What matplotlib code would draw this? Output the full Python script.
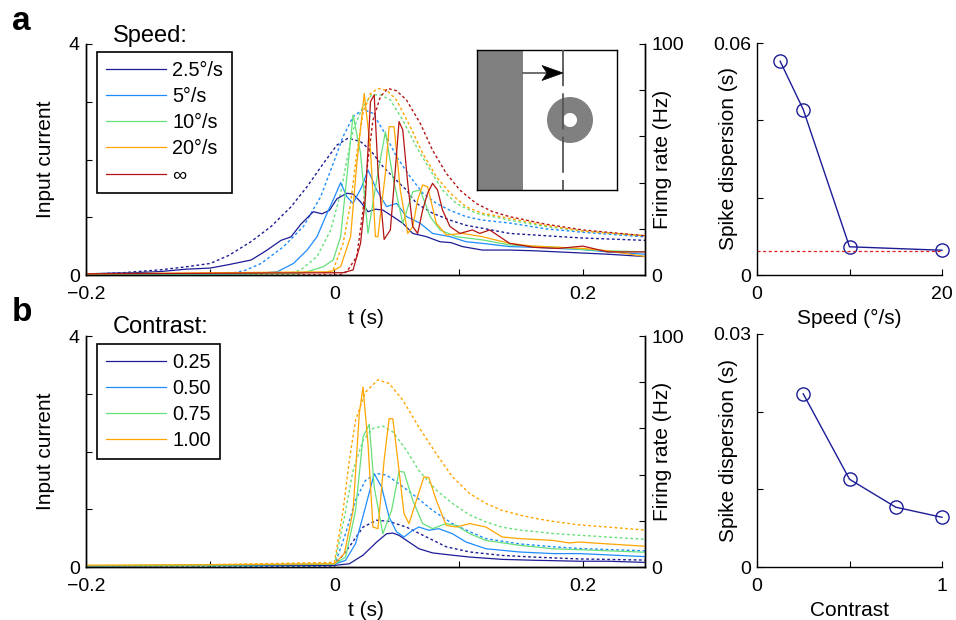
import numpy as np
import matplotlib
matplotlib.use('Agg')
import matplotlib.pyplot as plt
from matplotlib.patches import Rectangle, Wedge, Polygon

plt.rcParams['font.family'] = ['Liberation Sans', 'DejaVu Sans']
plt.rcParams['font.size'] = 14
plt.rcParams['axes.labelsize'] = 15
plt.rcParams['axes.unicode_minus'] = True

# colours per condition
navy, blue, green, orange, red = '#1c1c96', '#1e8cff', '#66e07a', '#ffa500', '#b41414'

# ---------- panel a: speed ----------
speed_labels = ['2.5°/s', '5°/s', '10°/s', '20°/s', '∞']

# dashed: input current
a_cur_t = [
    [-0.2, -0.17, -0.14, -0.12, -0.1, -0.085, -0.067, -0.051, -0.035, -0.022, -0.009, 0.002, 0.011, 0.021,
     0.029, 0.039, 0.047, 0.058, 0.066, 0.079, 0.093, 0.106, 0.119, 0.141, 0.17, 0.2, 0.25],
    [-0.2, -0.1, -0.085, -0.072, -0.059, -0.041, -0.025, -0.011, -0.001, 0.007, 0.015, 0.023, 0.031, 0.039,
     0.050, 0.061, 0.071, 0.082, 0.093, 0.106, 0.119, 0.141, 0.17, 0.2, 0.25],
    [-0.2, -0.04, -0.027, -0.014, -0.003, 0.005, 0.010, 0.015, 0.023, 0.030, 0.037, 0.045, 0.055, 0.066,
     0.077, 0.087, 0.098, 0.114, 0.141, 0.17, 0.2, 0.25],
    [-0.2, -0.012, -0.001, 0.007, 0.013, 0.018, 0.023, 0.029, 0.035, 0.042, 0.050, 0.061, 0.071, 0.082,
     0.093, 0.106, 0.119, 0.141, 0.17, 0.2, 0.25],
    [-0.2, 0.004, 0.010, 0.018, 0.023, 0.027, 0.031, 0.037, 0.043, 0.050, 0.058, 0.069, 0.079, 0.090,
     0.101, 0.114, 0.127, 0.141, 0.17, 0.2, 0.25],
]
a_cur = [
    [0.01, 0.04, 0.09, 0.14, 0.20, 0.34, 0.58, 0.84, 1.18, 1.53, 1.93, 2.25, 2.37, 2.31, 2.16, 1.88, 1.70,
     1.47, 1.24, 1.07, 0.95, 0.86, 0.81, 0.72, 0.68, 0.64, 0.60],
    [0, 0, 0.02, 0.08, 0.20, 0.49, 0.84, 1.36, 1.93, 2.40, 2.74, 2.87, 2.80, 2.51, 2.05, 1.70, 1.42, 1.24,
     1.12, 1.01, 0.95, 0.90, 0.80, 0.74, 0.66],
    [0, 0, 0.09, 0.32, 0.78, 1.42, 1.99, 2.51, 2.92, 3.12, 3.12, 3.03, 2.68, 2.22, 1.82, 1.47, 1.24, 1.07,
     0.95, 0.84, 0.76, 0.68],
    [0, 0, 0.09, 0.55, 1.24, 2.11, 2.80, 3.14, 3.23, 3.20, 3.03, 2.57, 2.11, 1.70, 1.42, 1.18, 1.07, 0.98,
     0.86, 0.76, 0.68],
    [0, 0, 0.06, 0.32, 1.12, 1.99, 2.68, 3.09, 3.23, 3.19, 3.03, 2.63, 2.16, 1.76, 1.47, 1.24, 1.10, 1.01,
     0.88, 0.78, 0.68],
]

# solid: firing rate (Hz)
a_rate_t = [
    [-0.2, -0.18, -0.16, -0.14, -0.12, -0.1, -0.085, -0.067, -0.055, -0.043, -0.035, -0.027, -0.017, -0.010,
     -0.004, 0.002, 0.010, 0.015, 0.021, 0.027, 0.033, 0.039, 0.047, 0.055, 0.063, 0.074, 0.085, 0.094,
     0.103, 0.119, 0.141, 0.16, 0.18, 0.2, 0.22, 0.25],
    [-0.2, -0.1, -0.07, -0.055, -0.046, -0.033, -0.022, -0.014, -0.006, -0.001, 0.005, 0.010, 0.015, 0.022,
     0.027, 0.034, 0.042, 0.050, 0.058, 0.069, 0.079, 0.093, 0.106, 0.119, 0.141, 0.16, 0.18, 0.2, 0.22, 0.25],
    [-0.2, -0.03, -0.022, -0.009, -0.001, 0.005, 0.010, 0.015, 0.021, 0.027, 0.034, 0.041, 0.047, 0.055,
     0.063, 0.069, 0.077, 0.085, 0.098, 0.119, 0.141, 0.16, 0.18, 0.2, 0.22, 0.25],
    [-0.2, -0.003, 0.005, 0.013, 0.018, 0.024, 0.029, 0.033, 0.035, 0.041, 0.044, 0.048, 0.053, 0.059,
     0.063, 0.067, 0.071, 0.075, 0.082, 0.090, 0.103, 0.119, 0.141, 0.16, 0.18, 0.2, 0.22, 0.25],
    [-0.2, 0.007, 0.015, 0.021, 0.025, 0.029, 0.032, 0.035, 0.040, 0.045, 0.049, 0.052, 0.055, 0.059,
     0.063, 0.067, 0.071, 0.075, 0.079, 0.083, 0.087, 0.093, 0.101, 0.111, 0.117, 0.125, 0.133, 0.141,
     0.16, 0.18, 0.2, 0.22, 0.25],
]
a_rate = [
    [0.5, 0.8, 1.0, 1.5, 2.5, 3.0, 4.5, 6.5, 10.5, 15.0, 16.5, 22.0, 27.4, 26.5, 28.0, 33.0, 35.4, 35.0,
     31.7, 27.4, 28.5, 28.1, 25.3, 22.4, 18.0, 16.6, 14.4, 14.0, 12.3, 10.8, 10.8, 10.5, 10.0, 9.5, 9.0, 8.0],
    [0.3, 0.3, 0.5, 1.0, 1.4, 5.0, 10.8, 16.6, 26.7, 32.5, 40.0, 33.9, 31.0, 38.2, 45.5, 36.8, 29.6, 31.0,
     25.3, 22.4, 18.0, 16.6, 14.4, 13.7, 12.3, 12.0, 11.5, 11.0, 10.0, 9.0],
    [0.3, 0.5, 1.4, 3.6, 6.5, 16.6, 42.6, 69.3, 52.7, 18.0, 41.1, 62.0, 42.6, 22.4, 36.0, 36.8, 25.3, 19.5,
     16.6, 15.2, 13.0, 12.5, 12.0, 11.0, 10.5, 10.0],
    [0.5, 1.4, 3.6, 16.6, 48.3, 78.6, 54.1, 16.6, 16.6, 44.0, 64.2, 64.2, 36.8, 18.0, 20.9, 32.5, 39.0,
     38.2, 22.4, 17.3, 18.0, 16.6, 13.7, 12.5, 12.0, 11.5, 10.5, 8.0],
    [0.5, 1.0, 2.2, 13.7, 33.9, 75.0, 78.0, 45.5, 15.4, 19.5, 45.5, 66.4, 62.8, 39.7, 21.0, 18.0, 28.1,
     35.4, 39.7, 36.8, 28.1, 21.0, 18.0, 19.5, 18.0, 19.5, 16.6, 13.7, 12.0, 11.5, 12.5, 10.0, 10.0],
]

# ---------- panel b: contrast ----------
contrast_labels = ['0.25', '0.50', '0.75', '1.00']

b_cur_t = [
    [-0.2, 0, 0.012, 0.023, 0.034, 0.044, 0.058, 0.074, 0.090, 0.109, 0.135, 0.162, 0.197, 0.25],
    [-0.2, 0, 0.009, 0.017, 0.025, 0.034, 0.042, 0.052, 0.066, 0.079, 0.095, 0.109, 0.122, 0.149, 0.176,
     0.197, 0.25],
    [-0.2, 0, 0.008, 0.015, 0.023, 0.031, 0.039, 0.047, 0.058, 0.068, 0.082, 0.095, 0.109, 0.122, 0.135,
     0.149, 0.176, 0.197, 0.25],
    [-0.2, 0, 0.007, 0.012, 0.017, 0.025, 0.035, 0.044, 0.055, 0.068, 0.082, 0.095, 0.109, 0.122, 0.135,
     0.149, 0.162, 0.176, 0.197, 0.25],
]
b_cur = [
    [0, 0.02, 0.35, 0.69, 0.81, 0.79, 0.69, 0.52, 0.35, 0.26, 0.20, 0.17, 0.14, 0.12],
    [0, 0.02, 0.58, 1.16, 1.50, 1.62, 1.59, 1.44, 1.21, 0.98, 0.75, 0.61, 0.49, 0.40, 0.35, 0.32, 0.28],
    [0, 0.04, 0.86, 1.67, 2.19, 2.40, 2.44, 2.34, 2.02, 1.67, 1.33, 1.10, 0.90, 0.78, 0.69, 0.64, 0.58,
     0.55, 0.48],
    [0, 0.08, 0.98, 1.85, 2.54, 3.03, 3.24, 3.18, 2.89, 2.42, 1.96, 1.56, 1.27, 1.10, 0.98, 0.90, 0.84,
     0.79, 0.73, 0.64],
]

b_rate_t = [
    [-0.2, -0.1, 0, 0.012, 0.023, 0.034, 0.042, 0.047, 0.052, 0.060, 0.068, 0.079, 0.095, 0.109, 0.135,
     0.162, 0.197, 0.22, 0.25],
    [-0.2, -0.1, 0, 0.009, 0.017, 0.025, 0.032, 0.038, 0.044, 0.050, 0.056, 0.063, 0.068, 0.076, 0.084,
     0.095, 0.106, 0.122, 0.149, 0.176, 0.197, 0.25],
    [-0.2, -0.1, 0, 0.009, 0.017, 0.023, 0.028, 0.032, 0.039, 0.046, 0.052, 0.056, 0.063, 0.071, 0.079,
     0.090, 0.098, 0.109, 0.122, 0.149, 0.176, 0.197, 0.25],
    [-0.2, -0.1, 0, 0.008, 0.015, 0.020, 0.023, 0.027, 0.031, 0.035, 0.040, 0.044, 0.047, 0.052, 0.056,
     0.060, 0.066, 0.072, 0.076, 0.082, 0.090, 0.098, 0.109, 0.122, 0.135, 0.149, 0.176, 0.189, 0.197,
     0.22, 0.25],
]
b_rate = [
    [0.5, 0.7, 0.7, 1.4, 5.1, 10.8, 14.4, 14.7, 13.7, 10.8, 7.9, 6.1, 5.1, 4.3, 3.3, 2.9, 2.5, 2.5, 2.0],
    [0.5, 0.8, 1.2, 2.9, 10.1, 26.0, 40.4, 34.6, 21.6, 15.2, 13.0, 15.9, 17.3, 15.9, 16.6, 14.4, 10.8,
     7.9, 6.5, 5.8, 5.8, 4.5],
    [0.5, 0.8, 1.2, 4.3, 24.5, 56.3, 61.8, 34.6, 14.4, 24.5, 41.4, 41.1, 28.9, 18.8, 16.6, 18.8, 18.0,
     14.4, 11.5, 9.4, 7.9, 7.5, 6.4],
    [0.8, 1.0, 1.4, 5.8, 24.5, 66.4, 77.9, 53.4, 17.3, 16.6, 46.2, 64.2, 64.2, 41.8, 23.1, 18.8, 28.9,
     39.0, 38.7, 28.9, 18.0, 17.3, 18.8, 17.3, 13.0, 12.3, 11.5, 10.4, 10.8, 10.0, 9.0],
]

# ---------- spike dispersion ----------
speeds = [2.5, 5, 10, 20]
disp_speed = [0.0553, 0.0428, 0.0073, 0.0064]
disp_speed_ref = 0.0063
contrasts = [0.25, 0.5, 0.75, 1.0]
disp_contrast = [0.0223, 0.0113, 0.0077, 0.0064]

W, H = 956, 620
fig = plt.figure(figsize=(W / 100, H / 100), dpi=100)


def px(l, t, r, b):
    return [l / W, 1 - b / H, (r - l) / W, (b - t) / H]


def style_ax(ax):
    ax.tick_params(direction='in', length=4.5, width=0.8, pad=4.5, labelsize=14)
    ax.tick_params(axis='x', pad=8)
    for s in ax.spines.values():
        s.set_linewidth(1.0)


def trace_panel(rect, cur_t, cur, rate_t, rate, colors, labels, title, leg_top, title_y):
    ax = fig.add_axes(rect)
    ax2 = ax.twinx()
    for tt, yy, c in zip(cur_t, cur, colors):
        ax.plot(tt, yy, color=c, lw=1.0, dashes=(2, 1.8))
    handles = []
    for tt, yy, c, lab in zip(rate_t, rate, colors, labels):
        h, = ax2.plot(tt, yy, color=c, lw=0.9, label=lab)
        handles.append(h)
    ax.set_xlim(-0.2, 0.25)
    ax.set_ylim(0, 4)
    ax2.set_ylim(0, 100)
    ax.set_xticks([-0.2, -0.1, 0, 0.1, 0.2])
    ax.set_xticklabels(['\u22120.2', '', '0', '', '0.2'])
    ax.set_yticks([0, 1, 2, 3, 4])
    ax.set_yticklabels(['0', '', '', '', '4'])
    ax2.set_yticks([0, 20, 40, 60, 80, 100])
    ax2.set_yticklabels(['0', '', '', '', '', '100'])
    for a in (ax, ax2):
        a.spines['top'].set_visible(False)
        style_ax(a)
    ax.set_xlabel('t (s)', labelpad=4)
    ax.set_ylabel('Input current')
    ax.yaxis.set_label_coords(-0.055, 0.5)
    ax2.set_ylabel('Firing rate (Hz)')
    ax2.yaxis.set_label_coords(1.0145, 0.5)
    leg = ax2.legend(handles=handles, loc='upper left', bbox_to_anchor=(97 / W, 1 - leg_top / H),
                     bbox_transform=fig.transFigure, borderaxespad=0, frameon=True, fancybox=False,
                     edgecolor='black', framealpha=1, handlelength=3.0, handletextpad=0.35,
                     labelspacing=0.36, borderpad=0.45, fontsize=14.3)
    leg.get_frame().set_linewidth(1.2)
    fig.text(113 / W, 1 - title_y / H, title, fontsize=17, va='baseline')
    return ax


trace_panel(px(86, 44, 645, 275), a_cur_t, a_cur, a_rate_t, a_rate,
            [navy, blue, green, orange, red], speed_labels, 'Speed:', 52, 42)
trace_panel(px(86, 336, 645, 567), b_cur_t, b_cur, b_rate_t, b_rate,
            [navy, blue, green, orange], contrast_labels, 'Contrast:', 344, 333)

# stimulus inset
ins = fig.add_axes(px(477, 50, 617, 190))
ins.set_xlim(0, 140)
ins.set_ylim(140, 0)
ins.set_xticks([])
ins.set_yticks([])
for s in ins.spines.values():
    s.set_linewidth(1.0)
ins.add_patch(Rectangle((0, 0), 46, 140, color='#808080', lw=0))
ins.add_patch(Wedge((93, 70), 23, 0, 360, width=16, color='#808080', lw=0))
ins.plot([86, 86], [0, 140], color='#555555', lw=1.3, dashes=(20, 4), zorder=3)
ins.plot([46, 72], [23, 23], color='#555555', lw=1.2, zorder=3)
ins.add_patch(Polygon([(86, 23), (65, 15.5), (70, 23), (65, 30.5)], closed=True,
                      fc='black', ec='black', lw=0.5, zorder=4))

# spike dispersion panels
axs = fig.add_axes(px(757, 43, 942, 275))
axs.plot(speeds, disp_speed, '-o', color=navy, lw=1.0, mfc='none', mec=navy, ms=9.5, mew=1.0)
axs.axhline(disp_speed_ref, color='#e02020', lw=0.9, dashes=(2.5, 2))
axs.set_xlim(0, 20)
axs.set_ylim(0, 0.06)
axs.set_xticks([0, 10, 20])
axs.set_xticklabels(['0', '', '20'])
axs.set_yticks([0, 0.02, 0.04, 0.06])
axs.set_yticklabels(['0', '', '', '0.06'])
axs.set_xlabel('Speed (°/s)', labelpad=4)
axs.set_ylabel('Spike dispersion (s)')
axs.yaxis.set_label_coords(-0.103, 0.5)

axc = fig.add_axes(px(757, 334, 942, 567))
axc.plot(contrasts, disp_contrast, '-o', color=navy, lw=1.0, mfc='none', mec=navy, ms=9.5, mew=1.0)
axc.set_xlim(0, 1)
axc.set_ylim(0, 0.03)
axc.set_xticks([0, 0.5, 1])
axc.set_xticklabels(['0', '', '1'])
axc.set_yticks([0, 0.01, 0.02, 0.03])
axc.set_yticklabels(['0', '', '', '0.03'])
axc.set_xlabel('Contrast', labelpad=4)
axc.set_ylabel('Spike dispersion (s)')
axc.yaxis.set_label_coords(-0.103, 0.5)

for a in (axs, axc):
    a.spines['top'].set_visible(False)
    a.spines['right'].set_visible(False)
    style_ax(a)
    for m in a.lines:
        m.set_clip_on(False)

fig.text(12 / W, 1 - 30 / H, 'a', fontsize=24, fontweight='bold', va='baseline')
fig.text(12 / W, 1 - 321 / H, 'b', fontsize=24, fontweight='bold', va='baseline')

fig.savefig('out.png', dpi=100)
